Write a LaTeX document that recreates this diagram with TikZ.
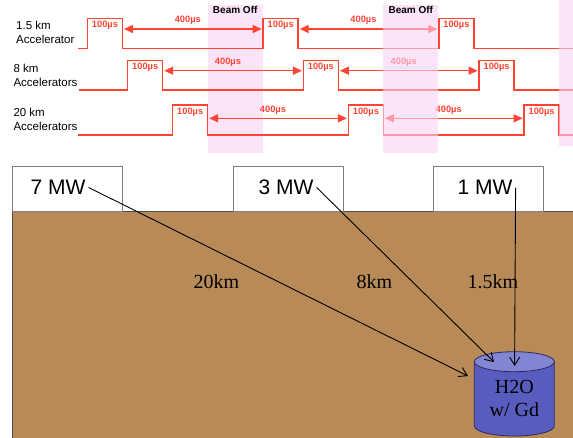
\documentclass[tikz,border=0pt]{standalone}
\usepackage{fontspec}
\setmainfont{Liberation Sans}
\newfontfamily\romanface{Liberation Serif}
\usepackage{xcolor}
\usepackage{tikz}
\usetikzlibrary{calc,arrows.meta}
\definecolor{PulseRed}{HTML}{FF4433}
\definecolor{BandPink}{HTML}{FAD2F3}
\definecolor{SoilBrown}{HTML}{B88A58}
\definecolor{BoxEdge}{HTML}{808080}
\definecolor{TankBody}{HTML}{585CBE}
\definecolor{TankTop}{HTML}{8285D2}
\definecolor{TankEdge}{HTML}{2A2A5E}

\tikzset{
  sig/.style={PulseRed, line width=1.5pt},
  gap/.style={PulseRed, line width=1.5pt, {Triangle[length=9pt,width=8pt]}-{Triangle[length=9pt,width=8pt]}},
  pulselabel/.style={text=PulseRed, font=\fontsize{9.3}{10}\selectfont\bfseries, inner sep=0pt},
  band/.style={fill=BandPink, opacity=0.6},
  beamlabel/.style={font=\fontsize{10}{11}\selectfont\bfseries, inner sep=0pt},
  rowlabel/.style={font=\fontsize{11.5}{14}\selectfont, align=left, anchor=west, inner sep=0pt},
  plant/.style={draw=BoxEdge, fill=white, line width=0.8pt, minimum width=110pt, minimum height=44.5pt, inner sep=0pt},
  mwlabel/.style={font=\fontsize{21}{24}\selectfont, inner sep=3pt},
  distlabel/.style={font=\romanface\fontsize{20}{23}\selectfont, inner sep=0pt},
  flight/.style={line width=0.9pt, -{Straight Barb[length=8pt,width=10pt]}}
}

\begin{document}
\begin{tikzpicture}[x=1pt, y=-1pt]
  \useasboundingbox (0,0) rectangle (573,437);

  % first beam-off window sits behind the pulses
  \fill[band] (207.7,5) rectangle (262.7,153);

  % pulse trains: low level / high level / first rise / start / arrow height
  \foreach \lo/\hi/\bx/\sx/\ay in {48.3/18.3/87.5/77.7/29, 90/60.7/127.7/79/70.7, 135/105/172.7/77.7/118.3}{
    \draw[sig] (\sx,\lo) -| (\bx,\hi) -| ({\bx+35},\lo) -| ({\bx+175.7},\hi) -| ({\bx+210.7},\lo)
      -| ({\bx+351.4},\hi) -| ({\bx+386.4},\lo) -- (573,\lo);
    \foreach \k in {0,1,2}
      \node[pulselabel] at ({\bx+17.5+175.7*\k},{\hi+7}) {100µs};
    \foreach \k in {0,1}{
      \draw[gap] ({\bx+36.5+175.7*\k},\ay) -- ({\bx+174.2+175.7*\k},\ay);
      \node[pulselabel] at ({\bx+100.3+175.7*\k},{\ay-8.5}) {400µs};
    }
  }

  % later windows fade what lies under them
  \fill[band] (383.3,5) rectangle (438.3,153);
  \fill[band] (559.3,0) rectangle (573,146);

  \node[beamlabel] (off1) at (235.2,10.3) {Beam Off};
  \node[beamlabel] (off2) at (410.8,10.3) {Beam Off};

  \node[rowlabel] (acc15) at (16,32) {1.5 km\\Accelerator};
  \node[rowlabel] (acc8) at (13.3,75) {8 km\\Accelerators};
  \node[rowlabel] (acc20) at (13.3,119.7) {20 km\\Accelerators};

  % ground and reactors
  \filldraw[fill=SoilBrown, draw=BoxEdge!60!black, line width=0.8pt] (12.3,211) rectangle (576,440);
  \node[plant] (box7) at (67.3,189) {};
  \node[plant] (box3) at (288,189) {};
  \node[plant] (box1) at (488.8,189) {};
  \node[mwlabel] (p7) at (58,187.5) {7 MW};
  \node[mwlabel] (p3) at (286,187.5) {3 MW};
  \node[mwlabel] (p1) at (485,187.5) {1 MW};

  % detector tank
  \filldraw[fill=TankBody, draw=TankEdge, line width=0.8pt] (474.3,361.7) -- (474.3,426)
    arc[start angle=180, end angle=0, x radius=40, y radius=10] -- (554.3,361.7) -- cycle;
  \filldraw[fill=TankTop, draw=TankEdge, line width=0.8pt] (514.3,361.7) ellipse[x radius=40, y radius=10];
  \node[distlabel, align=center] (tank) at (514.3,398.5) {H2O\\w/ Gd};

  \node[distlabel] (d20) at (216.5,281.5) {20km};
  \node[distlabel] (d8) at (374.5,281.5) {8km};
  \node[distlabel] (d15) at (493,281.5) {1.5km};

  \coordinate (t20) at (468,376);
  \coordinate (t8) at (494,362);
  \coordinate (t15) at (514.6,366);
  \draw[flight] (p7.east) -- (t20);
  \draw[flight] (p3.east) -- (t8);
  \draw[flight] (p1.east) -- (t15);
\end{tikzpicture}
\end{document}
